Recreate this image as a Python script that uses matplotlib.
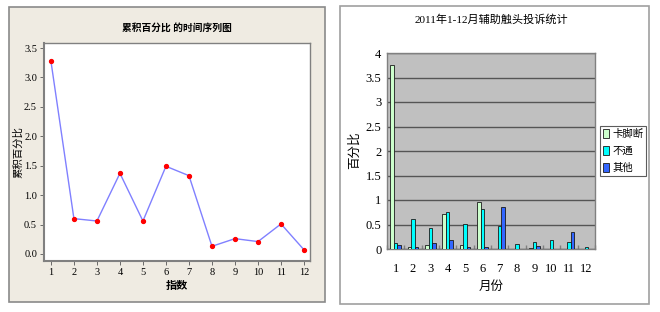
import matplotlib
matplotlib.use("Agg")
import matplotlib.pyplot as plt
from matplotlib.patches import Rectangle
import numpy as np

plt.rcParams['font.family'] = ['Liberation Serif', 'Noto Sans CJK SC', 'DejaVu Sans']

# Left chart: time series
idx = list(range(1, 13))
cum_pct = [3.28, 0.60, 0.56, 1.37, 0.56, 1.49, 1.33, 0.13, 0.26, 0.21, 0.51, 0.07]

# Right chart: grouped bars
months = [str(m) for m in range(1, 13)]
s_kajiaoduan = [3.76, 0.04, 0.09, 0.71, 0.09, 0.95, 0.0, 0.0, 0.03, 0.0, 0.0, 0.0]
s_butong = [0.12, 0.62, 0.42, 0.76, 0.52, 0.81, 0.47, 0.10, 0.14, 0.19, 0.14, 0.04]
s_qita = [0.08, 0.04, 0.12, 0.18, 0.04, 0.04, 0.86, 0.0, 0.07, 0.0, 0.35, 0.0]
series_names = ['卡脚断', '不通', '其他']

W, H = 660, 312
fig = plt.figure(figsize=(W / 100, H / 100), dpi=100)
fig.patch.set_facecolor('white')

def fx(x):
    return x / W

def fy(y):
    return 1 - y / H

# Panel frames
fig.patches.append(Rectangle((fx(9), fy(302)), fx(325 - 9), (302 - 7) / H,
                             transform=fig.transFigure, facecolor='#EFEBE2',
                             edgecolor='#8a8a8a', lw=1.2, zorder=-10))
fig.patches.append(Rectangle((fx(340), fy(304)), fx(649 - 340), (304 - 6) / H,
                             transform=fig.transFigure, facecolor='white',
                             edgecolor='#a0a0a0', lw=1.2, zorder=-10))

# ---------- Left axes ----------
ax1 = fig.add_axes([fx(44), fy(261), fx(310 - 44), (261 - 43) / H])
ax1.set_facecolor('white')
ax1.plot(idx, cum_pct, color='#8080ff', lw=1.0, zorder=2)
ax1.plot(idx, cum_pct, 'o', color='red', ms=2.8, mec='red', zorder=3)
ax1.set_xlim(0.7, 12.26)
ax1.set_ylim(-0.12, 3.585)
ax1.set_xticks(idx)
ax1.set_yticks([0, 0.5, 1.0, 1.5, 2.0, 2.5, 3.0, 3.5])
ax1.set_yticklabels(['0.0', '0.5', '1.0', '1.5', '2.0', '2.5', '3.0', '3.5'])
ax1.tick_params(axis='both', labelsize=7.5, length=3, width=0.6, color='#555555', pad=2)
for s in ax1.spines.values():
    s.set_color('#808080')
    s.set_linewidth(1.0)
ax1.spines['left'].set_linewidth(1.5)
ax1.spines['bottom'].set_linewidth(1.5)
ax1.set_title('累积百分比 的时间序列图', fontsize=7, fontweight='bold', pad=9)
ax1.set_xlabel('指数', fontsize=8, fontweight='bold', labelpad=3)
ax1.set_ylabel('累积百分比', fontsize=7.5)
ax1.yaxis.set_label_coords((23.5 - 44) / (310 - 44), 0.5)

# ---------- Right axes ----------
ax2 = fig.add_axes([fx(387), fy(249), fx(595 - 387), (249 - 53) / H])
ax2.set_facecolor('#C0C0C0')
x = np.arange(1, 13)
bw = 0.21
colors = ['#CCFFCC', '#00FFFF', '#3366FF']
for i, (vals, c, n) in enumerate(zip([s_kajiaoduan, s_butong, s_qita], colors, series_names)):
    ax2.bar(x + (i - 1) * bw, vals, width=bw, color=c, edgecolor='#1a1a1a',
            linewidth=0.6, label=n, zorder=3)
ax2.set_xlim(0.5, 12.5)
ax2.set_ylim(0, 4)
ax2.set_yticks([0, 0.5, 1, 1.5, 2, 2.5, 3, 3.5, 4])
ax2.set_yticklabels(['0', '0.5', '1', '1.5', '2', '2.5', '3', '3.5', '4'])
ax2.set_xticks(x)
ax2.set_xticklabels(months)
ax2.set_xticks(np.arange(0.5, 13, 1), minor=True)
ax2.yaxis.grid(True, color='#555555', lw=1.0, zorder=1)
ax2.set_axisbelow(True)
ax2.tick_params(axis='y', labelsize=9, length=0, pad=4)
ax2.tick_params(axis='x', which='major', labelsize=9, length=0, pad=10)
ax2.tick_params(axis='x', which='minor', length=3, direction='in', color='#808080', width=1)
for s in ax2.spines.values():
    s.set_color('#808080')
    s.set_linewidth(1.0)
ax2.set_title('2011年1-12月辅助触头投诉统计', fontsize=8, pad=22)
ax2.set_xlabel('月份', fontsize=9, labelpad=4)
ax2.set_ylabel('百分比', fontsize=9)
ax2.yaxis.set_label_coords((361 - 387) / (595 - 387), (249 - 150) / (249 - 53))
leg = ax2.legend(loc='upper left', bbox_to_anchor=((600 - 387) / (595 - 387), 1 - (126 - 53) / (249 - 53)),
                 fontsize=7.5, frameon=True, fancybox=False, edgecolor='#333333',
                 handlelength=0.6, handleheight=0.9, handletextpad=0.3,
                 borderpad=0.27, labelspacing=0.68, borderaxespad=0)
leg.get_frame().set_linewidth(0.8)

fig.savefig('out.png', dpi=100)
